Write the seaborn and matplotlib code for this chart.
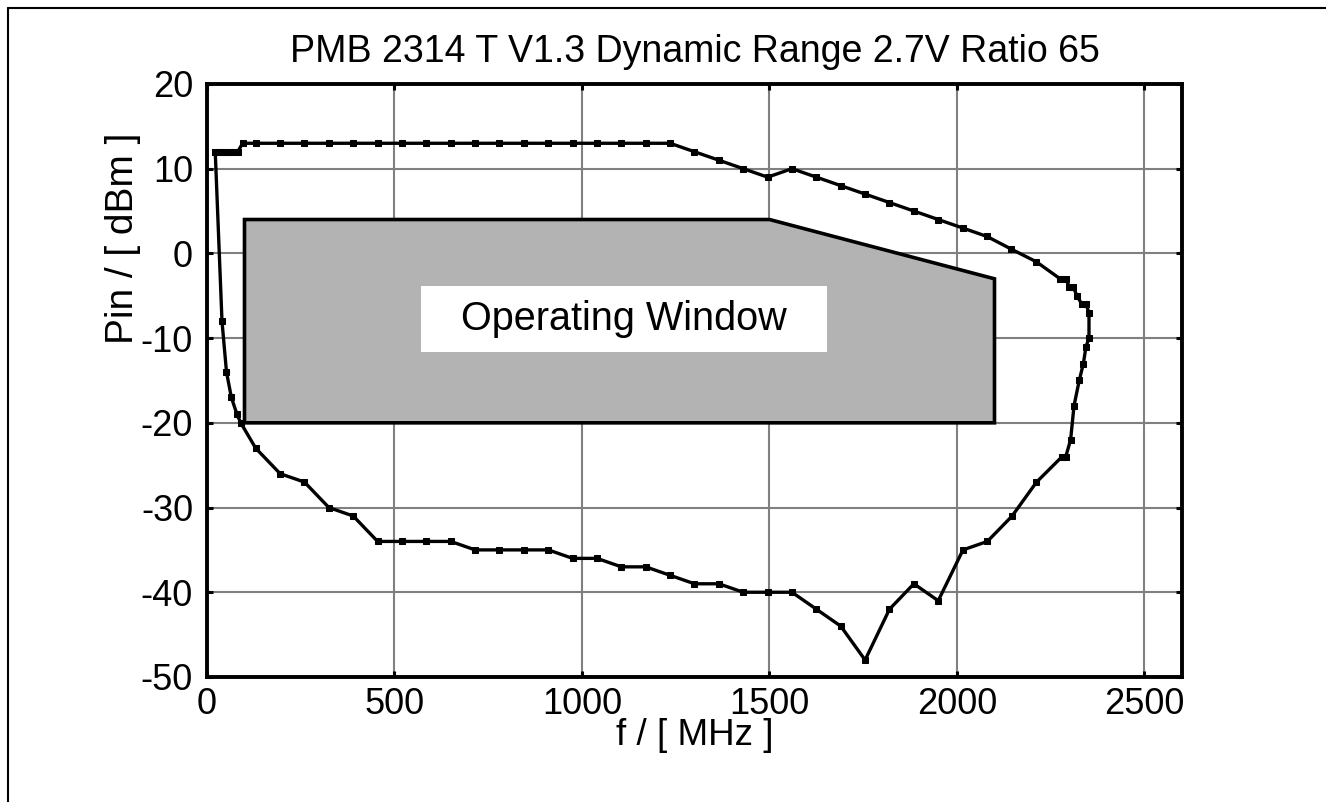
import matplotlib
matplotlib.use("Agg")
import matplotlib.pyplot as plt
import seaborn as sns
import pandas as pd
from matplotlib.lines import Line2D

# ---- data ----
freq_mhz = [22, 32, 42, 52, 62, 72, 82, 95, 130, 195, 260, 325, 390, 455, 520, 585,
            650, 715, 780, 845, 910, 975, 1040, 1105, 1170, 1235, 1300, 1365, 1430,
            1495, 1560, 1625, 1690, 1755, 1820, 1885, 1950, 2015, 2080, 2145, 2212,
            2275, 2290, 2300, 2310, 2320, 2333, 2344, 2352, 2352, 2344, 2337, 2326,
            2312, 2303, 2290, 2280, 2212, 2147, 2081, 2016, 1950, 1885, 1820, 1755,
            1690, 1625, 1560, 1495, 1430, 1365, 1300, 1235, 1170, 1105, 1040, 975,
            910, 845, 780, 715, 650, 585, 520, 455, 390, 325, 260, 195, 130, 90, 80,
            65, 52, 40, 22]
pin_dbm = [12, 12, 12, 12, 12, 12, 12, 13, 13, 13, 13, 13, 13, 13, 13, 13,
           13, 13, 13, 13, 13, 13, 13, 13, 13, 13, 12, 11, 10,
           9, 10, 9, 8, 7, 6, 5, 4, 3, 2, 0.5, -1,
           -3, -3, -4, -4, -5, -6, -6, -7, -10, -11, -13, -15,
           -18, -22, -24, -24, -27, -31, -34, -35, -41, -39, -42, -48,
           -44, -42, -40, -40, -40, -39, -39, -38, -37, -37, -36, -36,
           -35, -35, -35, -35, -34, -34, -34, -34, -31, -30, -27, -26, -23, -20, -19,
           -17, -14, -8, 12]

window_f = [100, 1500, 2100, 2100, 100]
window_p = [4, 4, -3, -20, -20]

x_ticks = [0, 500, 1000, 1500, 2000, 2500]
y_ticks = [20, 10, 0, -10, -20, -30, -40, -50]

title = "PMB 2314 T V1.3 Dynamic Range 2.7V Ratio 65"
xlabel = "f / [ MHz ]"
ylabel = "Pin / [ dBm ]"
window_label = "Operating Window"

# ---- styling ----
sns.set_theme(style="white")
plt.rcParams["font.family"] = ["Liberation Sans", "DejaVu Sans"]
plt.rcParams["axes.unicode_minus"] = False

fig = plt.figure(figsize=(13.26, 8.02), dpi=100)
ax = fig.add_axes([0.1561, 0.1559, 0.7353, 0.7394])

# operating window
ax.fill(window_f, window_p, facecolor="#b3b3b3", edgecolor="black",
        linewidth=2.6, zorder=2)
ax.add_patch(plt.Rectangle((571, -11.6), 1082, 7.7, facecolor="white",
                           edgecolor="none", zorder=3))
ax.text(1112, -7.8, window_label, ha="center", va="center", fontsize=28.5,
        color="black", zorder=4)

df = pd.DataFrame({"f": freq_mhz, "pin": pin_dbm})
sns.lineplot(data=df, x="f", y="pin", sort=False, estimator=None, ax=ax,
             color="black", linewidth=2.4, marker="s", markersize=3.8,
             markeredgecolor="black", zorder=5)

ax.set_xlim(0, 2600)
ax.set_ylim(-50, 20)
ax.set_xticks(x_ticks)
ax.set_yticks(y_ticks)
ax.grid(True, color="#808080", linewidth=1.5, zorder=1)
ax.set_axisbelow(True)

for s in ax.spines.values():
    s.set_color("black")
    s.set_linewidth(2.8)
    s.set_visible(True)

ax.tick_params(axis="both", direction="in", length=4, width=2.2, color="black",
               labelsize=26, labelcolor="black", top=True, right=True,
               bottom=True, left=True)
ax.tick_params(axis="x", pad=7)
ax.tick_params(axis="y", pad=10)

ax.set_title(title, fontsize=27, color="black", pad=16)
ax.set_xlabel(xlabel, fontsize=26.5, color="black")
ax.set_ylabel(ylabel, fontsize=28, color="black")
ax.xaxis.set_label_coords(0.5, -0.07)
ax.yaxis.set_label_coords(-0.068, 0.74)

# figure frame lines (top and left)
fig.add_artist(Line2D([8 / 1326, 1.0], [1 - 8 / 802, 1 - 8 / 802],
                      transform=fig.transFigure, color="black", linewidth=1.5))
fig.add_artist(Line2D([8 / 1326, 8 / 1326], [0.0, 1 - 8 / 802],
                      transform=fig.transFigure, color="black", linewidth=1.5))

fig.savefig("out.png", dpi=100, facecolor="white")
